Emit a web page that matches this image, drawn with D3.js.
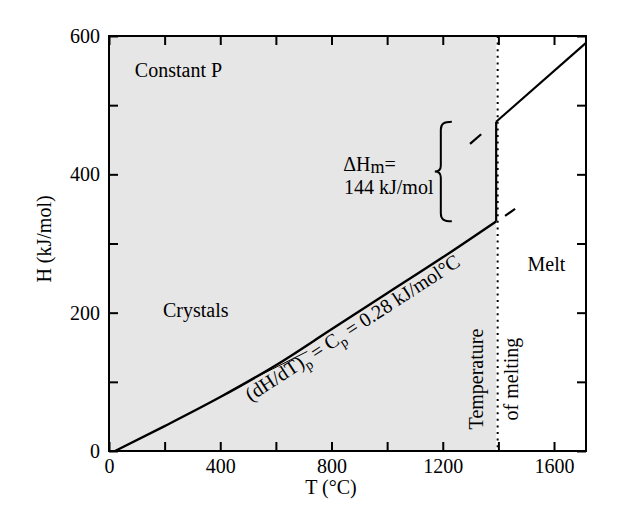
<!DOCTYPE html>
<html>
<head>
<meta charset="utf-8">
<script src="https://cdn.jsdelivr.net/npm/d3@7"></script>
<style>
    body { margin: 0; background: #fff; }
    text { font-family: "Liberation Serif", "Times New Roman", serif; fill: #000; }
</style>
</head>
<body>
<div id="chart"></div>
<script>
//Data (T in °C, H in kJ/mol)
var meltingT = 1392;
var crystalCurve = [[22, 0], [200, 36], [400, 78], [600, 124], [800, 176], [1000, 228], [1200, 280], [1392, 332]];
var fusionJump = [[1392, 332], [1392, 476]];
var meltCurve = [[1392, 476], [1715, 590]];
var meltBackDash = [[1298, 444], [1338, 458]];
var crystalFwdDash = [[1424, 340], [1460, 350]];
var tangentLine = [[536, 108], [713, 144]];
var braceSpan = { t: 1193, low: 332, high: 476 };

//Ticks
var xTicks = d3.range(0, 1701, 200);
var xTickLabels = [0, 400, 800, 1200, 1600];
var yTicks = d3.range(0, 601, 100);
var yTickLabels = [0, 200, 400, 600];

//Plain text labels, anchored in data coordinates
var labels = [
    { text: "Constant P", t: 93, h: 541 },
    { text: "Crystals", t: 194, h: 194 },
    { text: "Melt", t: 1505, h: 260 },
    { text: "144 kJ/mol", t: 845, h: 372 }
];

//Configuration
var configuration = {
    width: 617,
    height: 509,
    left: 109,
    right: 586,
    top: 36,
    bottom: 451,
    tick: 9
};

var svg = d3.select("#chart")
    .append("svg")
        .attr("width", configuration.width)
        .attr("height", configuration.height);

//Scales
var x = d3.scaleLinear()
    .domain([0, 1715])
    .range([configuration.left, configuration.right]);

var y = d3.scaleLinear()
    .domain([0, 600])
    .range([configuration.bottom, configuration.top]);

//Grey area for the crystal field
svg.append("rect")
    .attr("x", x(0))
    .attr("y", y(600))
    .attr("width", x(meltingT) - x(0))
    .attr("height", y(0) - y(600))
    .attr("fill", "#e6e6e6");

//Dotted line at the melting temperature
svg.append("line")
    .attr("x1", x(meltingT) + 1.5)
    .attr("x2", x(meltingT) + 1.5)
    .attr("y1", y(600))
    .attr("y2", y(0))
    .attr("stroke", "#000")
    .attr("stroke-width", 2)
    .attr("stroke-dasharray", "2,4.6");

//Axes, ticks point inward
function styleAxis(g) {
    g.select(".domain").remove();
    g.selectAll(".tick line").attr("stroke-width", 2);
    g.selectAll(".tick text")
        .style("font-family", "Liberation Serif, serif")
        .style("font-size", "20px")
        .attr("fill", "#000");
}

function xFormat(d) { return xTickLabels.indexOf(d) >= 0 ? d : ""; }
function yFormat(d) { return yTickLabels.indexOf(d) >= 0 ? d : ""; }

svg.append("g")
    .attr("transform", `translate(0, ${configuration.bottom})`)
    .call(d3.axisBottom(x).tickValues(xTicks).tickSizeInner(-configuration.tick).tickSizeOuter(0).tickPadding(8).tickFormat(xFormat))
    .call(styleAxis);

svg.append("g")
    .attr("transform", `translate(0, ${configuration.top})`)
    .call(d3.axisTop(x).tickValues(xTicks).tickSizeInner(-configuration.tick).tickSizeOuter(0).tickFormat(""))
    .call(styleAxis);

svg.append("g")
    .attr("transform", `translate(${configuration.left}, 0)`)
    .call(d3.axisLeft(y).tickValues(yTicks).tickSizeInner(-configuration.tick).tickSizeOuter(0).tickPadding(9).tickFormat(yFormat))
    .call(styleAxis);

svg.append("g")
    .attr("transform", `translate(${configuration.right}, 0)`)
    .call(d3.axisRight(y).tickValues(yTicks).tickSizeInner(-configuration.tick).tickSizeOuter(0).tickFormat(""))
    .call(styleAxis);

//Frame
svg.append("rect")
    .attr("x", configuration.left)
    .attr("y", configuration.top)
    .attr("width", configuration.right - configuration.left)
    .attr("height", configuration.bottom - configuration.top)
    .attr("fill", "none")
    .attr("stroke", "#000")
    .attr("stroke-width", 2);

//Curves
var line = d3.line()
    .x(function(d) { return x(d[0]); })
    .y(function(d) { return y(d[1]); });

var smooth = d3.line()
    .x(function(d) { return x(d[0]); })
    .y(function(d) { return y(d[1]); })
    .curve(d3.curveMonotoneX);

svg.append("path")
    .attr("d", smooth(crystalCurve))
    .attr("fill", "none")
    .attr("stroke", "#000")
    .attr("stroke-width", 2.4);

[fusionJump, meltCurve, meltBackDash, crystalFwdDash].forEach(function(seg) {
    svg.append("path")
        .attr("d", line(seg))
        .attr("fill", "none")
        .attr("stroke", "#000")
        .attr("stroke-width", 2.2);
});

svg.append("path")
    .attr("d", line(tangentLine))
    .attr("fill", "none")
    .attr("stroke", "#000")
    .attr("stroke-width", 1);

//Curly brace for the heat of fusion
var bx = x(braceSpan.t);
var bt = y(braceSpan.high);
var bb = y(braceSpan.low);
var bm = (bt + bb) / 2;
var braceD = `M${bx + 11},${bt} C${bx + 3},${bt} ${bx},${bt + 2} ${bx},${bt + 8}`
    + ` L${bx},${bm - 6} C${bx},${bm - 2} ${bx - 2},${bm} ${bx - 6},${bm}`
    + ` C${bx - 2},${bm} ${bx},${bm + 2} ${bx},${bm + 6}`
    + ` L${bx},${bb - 8} C${bx},${bb - 2} ${bx + 3},${bb} ${bx + 11},${bb}`;
svg.append("path")
    .attr("d", braceD)
    .attr("fill", "none")
    .attr("stroke", "#000")
    .attr("stroke-width", 2);

//Labels
labels.forEach(function(l) {
    svg.append("text")
        .attr("x", x(l.t))
        .attr("y", y(l.h))
        .style("font-size", "20px")
        .text(l.text);
});

var dh = svg.append("text")
    .attr("x", x(842))
    .attr("y", y(405))
    .style("font-size", "20px");
dh.append("tspan").text("ΔH");
dh.append("tspan").attr("dy", 2).style("font-size", "18px").text("m");
dh.append("tspan").attr("dy", -2).text("=");

svg.append("text")
    .attr("transform", `translate(${x(1345)}, ${y(104)}) rotate(-90)`)
    .attr("text-anchor", "middle")
    .style("font-size", "20px")
    .text("Temperature");

svg.append("text")
    .attr("transform", `translate(${x(1471)}, ${y(104)}) rotate(-90)`)
    .attr("text-anchor", "middle")
    .style("font-size", "20px")
    .text("of melting");

//Slope label along the crystal curve
var cp = svg.append("text")
    .attr("transform", `translate(${x(510)}, ${y(71)}) rotate(-33)`)
    .style("font-size", "20px");
cp.append("tspan").text("(dH/dT)");
cp.append("tspan").attr("dy", 5).style("font-size", "14px").text("p");
cp.append("tspan").attr("dy", -5).text(" = C");
cp.append("tspan").attr("dy", 5).style("font-size", "14px").text("p");
cp.append("tspan").attr("dy", -5).text(" = 0.28 kJ/mol°C");

//Axis titles
svg.append("text")
    .attr("transform", `translate(${configuration.left - 58}, 239) rotate(-90)`)
    .attr("text-anchor", "middle")
    .style("font-size", "20px")
    .text("H (kJ/mol)");

svg.append("text")
    .attr("x", 331)
    .attr("y", 494)
    .attr("text-anchor", "middle")
    .style("font-size", "20px")
    .text("T (°C)");
</script>
</body>
</html>
